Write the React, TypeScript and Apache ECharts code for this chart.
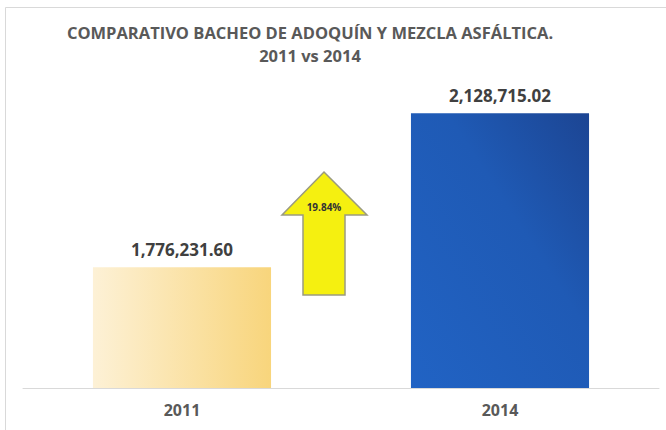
import React, { useEffect, useRef } from "react";
import * as echarts from "echarts";

const categories = ["2011", "2014"];
const values = [1776231.6, 2128715.02];
const changeLabel = "19.84%";
const titleLines = ["COMPARATIVO BACHEO DE ADOQUÍN Y MEZCLA ASFÁLTICA.", "2011 vs 2014"];

const fmt = (v: number) =>
  v.toLocaleString("en-US", { minimumFractionDigits: 2, maximumFractionDigits: 2 });

export default function App() {
  const ref = useRef<HTMLDivElement>(null);
  useEffect(() => {
    const chart = echarts.init(ref.current!, null, { renderer: "svg" });
    const font = "'Open Sans', 'Liberation Sans', sans-serif";
    chart.setOption({
      animation: false,
      backgroundColor: "#ffffff",
      title: {
        text: titleLines.join("\n"),
        left: 305,
        top: 16,
        textAlign: "center",
        textStyle: {
          fontFamily: font,
          fontSize: 16.5,
          fontWeight: "bold",
          color: "#595959",
          lineHeight: 23,
        },
      },
      grid: { left: 23, right: 7, top: 82, bottom: 42, containLabel: false },
      xAxis: {
        type: "category",
        data: categories,
        axisLine: { show: true, lineStyle: { color: "#d9d9d9", width: 1 } },
        axisTick: { show: false },
        axisLabel: {
          margin: 14,
          fontFamily: font,
          fontSize: 16,
          fontWeight: "bold",
          color: "#595959",
        },
      },
      yAxis: {
        type: "value",
        min: 1500000,
        max: 2200000,
        show: false,
        splitLine: { show: false },
      },
      series: [
        {
          type: "bar",
          barWidth: "56%",
          data: [
            {
              value: values[0],
              itemStyle: {
                color: new echarts.graphic.LinearGradient(0, 0, 1, 0, [
                  { offset: 0, color: "#fdf1d6" },
                  { offset: 1, color: "#f8d57c" },
                ]),
              },
            },
            {
              value: values[1],
              itemStyle: {
                color: new echarts.graphic.LinearGradient(0, 1, 1, 0, [
                  { offset: 0, color: "#2163c4" },
                  { offset: 0.6, color: "#1f5ab5" },
                  { offset: 1, color: "#1c4593" },
                ]),
              },
            },
          ],
          label: {
            show: true,
            position: "top",
            distance: 9,
            formatter: (p: any) => fmt(p.value),
            fontFamily: font,
            fontSize: 17,
            fontWeight: "bold",
            color: "#404040",
          },
        },
      ],
      graphic: [
        {
          type: "rect",
          shape: { x: 5.5, y: 7.5, width: 670, height: 430 },
          style: { fill: "none", stroke: "#d9d9d9", lineWidth: 1 },
          silent: true,
        },
        {
          type: "polygon",
          shape: {
            points: [
              [324, 172],
              [367, 215],
              [345, 215],
              [345, 295],
              [303, 295],
              [303, 215],
              [282, 215],
            ],
          },
          style: { fill: "#f5f010", stroke: "#9a9a80", lineWidth: 1.5 },
        },
        {
          type: "text",
          x: 324,
          y: 207,
          style: {
            text: changeLabel,
            fontFamily: font,
            fontSize: 10,
            fontWeight: "bold",
            fill: "#333333",
            align: "center",
            verticalAlign: "middle",
          },
        },
      ],
    });
    return () => chart.dispose();
  }, []);
  return <div ref={ref} style={{ width: 666, height: 430, position: "absolute", left: 0, top: 0 }} />;
}
